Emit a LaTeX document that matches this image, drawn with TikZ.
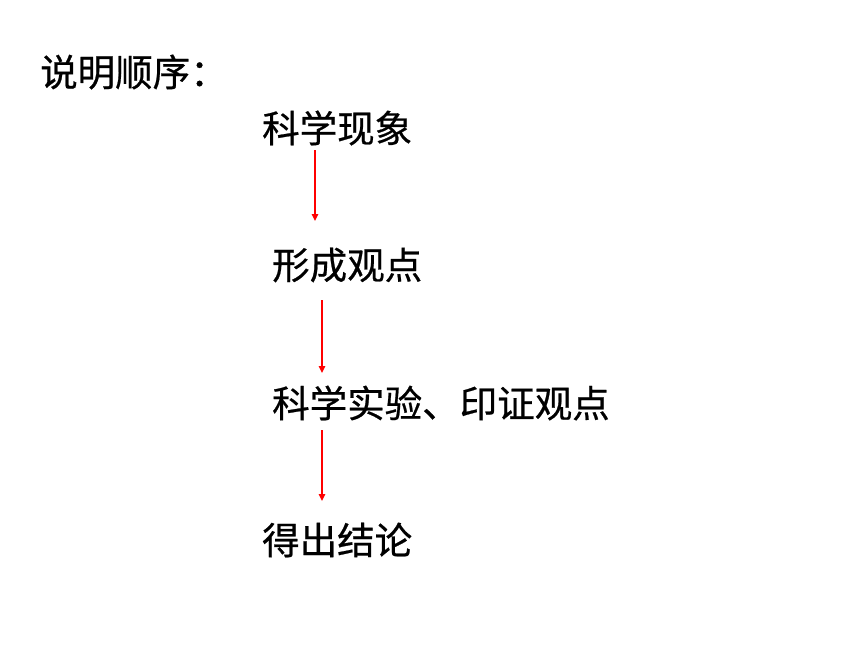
\documentclass[tikz,border=0pt]{standalone}
\usepackage{fontspec}
\newfontfamily\cjk[FakeBold=0.6]{Noto Sans CJK SC}
\usetikzlibrary{arrows.meta}

\begin{document}
\begin{tikzpicture}[x=1pt, y=-1pt, every node/.style={font=\cjk\fontsize{37.5}{40}\selectfont, inner sep=0pt, anchor=west}]
    % Define colors
    \definecolor{arrowred}{RGB}{255,0,0}
    \tikzset{steparrow/.style={draw=arrowred, line width=1.4pt, -{Triangle[width=6.5pt,length=7pt]}}}

    % Frame
    \useasboundingbox (0,0) rectangle (860,645);

    % Title
    \node (title) at (40,72) {说明顺序：};

    % Steps
    \node (phenom) at (262,128) {科学现象};
    \node (view) at (272,265) {形成观点};
    \node (test) at (272,403) {科学实验、印证观点};
    \node (result) at (262,540) {得出结论};

    % Arrow ends
    \coordinate (a1) at (315,150);
    \coordinate (b1) at (315,221);
    \coordinate (a2) at (322,300);
    \coordinate (b2) at (322,373);
    \coordinate (a3) at (322,430);
    \coordinate (b3) at (322,501);

    % Arrows between steps
    \draw[steparrow] (a1) -- (b1);
    \draw[steparrow] (a2) -- (b2);
    \draw[steparrow] (a3) -- (b3);
\end{tikzpicture}
\end{document}
